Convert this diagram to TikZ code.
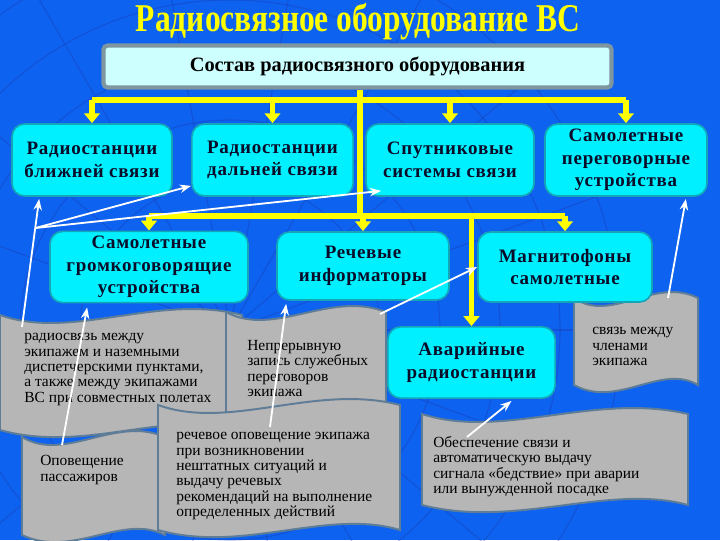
\documentclass[tikz,border=0pt]{standalone}
\usepackage{fontspec}
\setmainfont{Liberation Serif}
\usetikzlibrary{arrows.meta,calc}

\definecolor{bgblue}{RGB}{14,98,240}
\definecolor{gridblue}{RGB}{25,55,170}
\definecolor{boxcyan}{RGB}{0,240,255}
\definecolor{boxedge}{RGB}{20,165,185}
\definecolor{headfill}{RGB}{205,255,255}
\definecolor{headedge}{RGB}{125,150,160}
\definecolor{navytext}{RGB}{8,12,40}
\definecolor{scrollfill}{RGB}{182,182,182}
\definecolor{scrolledge}{RGB}{95,125,150}
\definecolor{linkyellow}{RGB}{255,255,0}

\tikzset{
  unitbox/.style={draw=boxedge, line width=1.2pt, fill=boxcyan, rounded corners=9pt,
    align=center, text=navytext, font=\fontsize{13.5}{16}\selectfont\bfseries\addfontfeature{LetterSpace=4}, inner sep=2pt},
  scrollpaper/.style={draw=scrolledge, line width=1.4pt, fill=scrollfill},
  scrolltext/.style={anchor=north west, align=left, inner sep=0pt, text=black,
    font=\fontsize{11}{11}\selectfont},
  yline/.style={draw=linkyellow, line width=3.6pt},
  yarrow/.style={yline, -{Triangle[width=11pt,length=7pt]}},
  warrow/.style={draw=white, line width=1.3pt, -{Stealth[width=6pt,length=8pt]}}
}

\newcommand{\scrollpath}[4]{%
  \path[scrollpaper] (#1,#2) .. controls ({#1+0.3*(#3-#1)},{#2+26}) and ({#1+0.65*(#3-#1)},{#2-22}) .. (#3,#2)
    -- (#3,#4) .. controls ({#3-0.3*(#3-#1)},{#4-22}) and ({#3-0.65*(#3-#1)},{#4+24}) .. (#1,#4) -- cycle;}

\begin{document}
\begin{tikzpicture}[x=0.025cm,y=-0.025cm]
  \fill[bgblue] (0,0) rectangle (720,540);
  \useasboundingbox (0,0) rectangle (720,540);
  \begin{scope}
    \clip (0,0) rectangle (720,540);
    \foreach \r in {150,210,270,330,390}
      \draw[gridblue, opacity=0.35, line width=0.8pt] (230,330) circle (\r);
    \foreach \a in {0,20,...,340}
      \draw[gridblue, opacity=0.35, line width=0.8pt] (230,330) -- ++(\a:420);
  \end{scope}

  \node[text=linkyellow, font=\fontsize{28}{28}\selectfont\bfseries\addfontfeature{FakeStretch=0.8}] (title) at (358,22) {Радиосвязное оборудование ВС};

  \node[draw=headedge, line width=3pt, fill=headfill, rounded corners=3pt, minimum width=12.7cm, minimum height=1.05cm,
    font=\fontsize{14.5}{14.5}\selectfont\bfseries] (head) at (357.5,66.5) {Состав радиосвязного оборудования};

  % scrolls
  \scrollpath{22}{437}{165}{535}
  \scrollpath{0}{315}{242}{430}
  \scrollpath{226}{312}{386}{415}
  \scrollpath{158}{405}{400}{530}
  \scrollpath{574}{298}{698}{385}
  \scrollpath{422}{414}{688}{505}

  \node[scrolltext] (tA) at (24,333) {радиосвязь между\\экипажем и наземными\\диспетчерскими пунктами,\\а также между экипажами\\ВС при совместных полетах};
  \node[scrolltext] (tB) at (247,340) {Непрерывную\\запись служебных\\переговоров\\экипажа};
  \node[scrolltext] (tC) at (40,455) {Оповещение\\пассажиров};
  \node[scrolltext] (tD) at (176,432) {речевое оповещение экипажа\\при возникновении\\нештатных ситуаций и\\выдачу речевых\\рекомендаций на выполнение\\определенных действий};
  \node[scrolltext] (tE) at (592,327) {связь между\\членами\\экипажа};
  \node[scrolltext] (tF) at (433,436) {Обеспечение связи и\\автоматическую выдачу\\сигнала «бедствие» при аварии\\или вынужденной посадке};

  % boxes
  \node[unitbox, minimum width=4cm, minimum height=1.8cm] (near) at (92,160) {Радиостанции\\ближней связи};
  \node[unitbox, minimum width=4.03cm, minimum height=1.8cm] (far) at (272.5,160) {Радиостанции\\дальней связи};
  \node[unitbox, minimum width=4.2cm, minimum height=1.8cm] (sat) at (450,160) {Спутниковые\\системы связи};
  \node[unitbox, minimum width=4.05cm, minimum height=1.8cm] (intercom) at (626,160) {Самолетные\\переговорные\\устройства};
  \node[unitbox, minimum width=4.95cm, minimum height=1.78cm] (loud) at (149,267) {Самолетные\\громкоговорящие\\устройства};
  \node[unitbox, minimum width=4.3cm, minimum height=1.7cm] (voice) at (363,266) {Речевые\\информаторы};
  \node[unitbox, minimum width=4.35cm, minimum height=1.75cm] (recorder) at (565,267) {Магнитофоны\\самолетные};
  \node[unitbox, minimum width=4.18cm, minimum height=1.78cm] (sos) at (471.5,362.5) {Аварийные\\радиостанции};

  % yellow tree
  \coordinate (busA) at (360,100);
  \coordinate (busB) at (360,216);
  \draw[yline] (head.south -| busA) -- (busB);
  \draw[yline] (near.north |- busA) -- (intercom.north |- busA);
  \draw[yline] (loud.north |- busB) -- (recorder.north |- busB);
  \foreach \b in {near,far,sat,intercom}
    \draw[yarrow] (\b.north |- busA) -- (\b.north);
  \foreach \b in {loud,voice,recorder}
    \draw[yarrow] (\b.north |- busB) -- (\b.north);
  \draw[yarrow] (sos.north |- busB) -- (sos.north);

  % white pointers
  \coordinate (srcA) at (22,327);
  \coordinate (fork) at (35.5,228);
  \coordinate (srcB) at (380,314);
  \coordinate (srcC) at (62,445);
  \coordinate (srcD) at (270,427);
  \coordinate (srcE) at (668,298);
  \coordinate (srcF) at (467,437);
  \draw[warrow] (srcA) -- ($(near.south west)+(28,2)$);
  \draw[warrow] (fork) -- ($(far.south west)+(0,-11)$);
  \draw[warrow] (fork) -- ($(sat.south west)+(16,-6)$);
  \draw[warrow] (srcC) -- ($(loud.south west)+(38,4)$);
  \draw[warrow] (srcD) -- ($(voice.south west)+(10,3)$);
  \draw[warrow] (srcB) -- (recorder.west);
  \draw[warrow] (srcE) -- ($(intercom.south east)+(-22,2)$);
  \draw[warrow] (srcF) -- ($(sos.south)+(40,2)$);
\end{tikzpicture}
\end{document}
